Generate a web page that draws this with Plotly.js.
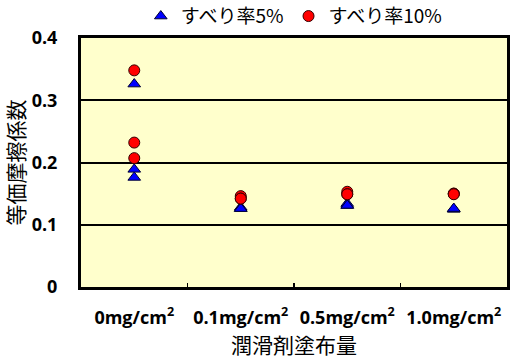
<!DOCTYPE html>
<html>
<head>
<meta charset="utf-8">
<script src="https://cdn.plot.ly/plotly-3.0.1.min.js"></script>
<style>html,body{margin:0;padding:0;background:#fff;}#chart{width:520px;height:360px;}</style>
</head>
<body>
<div id="chart"></div>
<script>
var categories = ["0mg/cm<sup>2</sup>", "0.1mg/cm<sup>2</sup>", "0.5mg/cm<sup>2</sup>", "1.0mg/cm<sup>2</sup>"];
var sampleCategories = [
  categories[0], categories[0], categories[0],
  categories[1], categories[1], categories[1],
  categories[2], categories[2], categories[2],
  categories[3], categories[3], categories[3]
];
var slip5 = [0.326, 0.189, 0.176, 0.128, 0.126, 0.126, 0.134, 0.131, 0.131, 0.125, 0.125, 0.126];
var slip10 = [0.348, 0.232, 0.207, 0.146, 0.142, 0.142, 0.153, 0.149, 0.149, 0.150, 0.150, 0.149];
var seriesNames = ["すべり率5%", "すべり率10%"];
var yTicks = [0, 0.1, 0.2, 0.3, 0.4];
var yTickText = ["0", "0.1", "0.2", "0.3", "0.4"];

var latin = "Open Sans, Noto Sans CJK JP, sans-serif";
var cjk = "Noto Sans CJK JP, sans-serif";

var traces = [
  {
    type: "scatter", mode: "markers", name: seriesNames[0],
    x: sampleCategories, y: slip5,
    marker: {symbol: "triangle-up", size: 11, color: "#0000FF", line: {color: "#000033", width: 1}},
    cliponaxis: false
  },
  {
    type: "scatter", mode: "markers", name: seriesNames[1],
    x: sampleCategories, y: slip10,
    marker: {symbol: "circle", size: 11, color: "#FF0000", line: {color: "#330000", width: 1}},
    cliponaxis: false
  }
];

var layout = {
  width: 520, height: 360,
  margin: {l: 81, r: 13, t: 38, b: 73, pad: 0, autoexpand: false},
  paper_bgcolor: "#FFFFFF",
  plot_bgcolor: "#FFFFCC",
  showlegend: true,
  legend: {
    orientation: "h", xref: "container", x: 0.565, xanchor: "center",
    yref: "container", y: 0.955, yanchor: "middle",
    font: {family: cjk, size: 19, color: "#000"},
    itemwidth: 30, tracegroupgap: 0, bgcolor: "rgba(0,0,0,0)"
  },
  xaxis: {
    type: "category",
    categoryorder: "array", categoryarray: categories,
    range: [-0.5, 3.5],
    showgrid: false, zeroline: false,
    showline: true, linecolor: "#000", linewidth: 3, mirror: true,
    ticks: "inside", tickson: "boundaries", ticklen: 4, tickwidth: 1.5, tickcolor: "#000",
    tickfont: {family: latin, size: 18, color: "#000", weight: "bold"},
    ticklabelstandoff: 12,
    title: {text: "潤滑剤塗布量", font: {family: cjk, size: 21, color: "#000"}, standoff: 2}
  },
  yaxis: {
    range: [0, 0.4],
    tickvals: yTicks, ticktext: yTickText,
    showgrid: true, gridcolor: "#000", gridwidth: 2,
    zeroline: false,
    showline: true, linecolor: "#000", linewidth: 3, mirror: true,
    ticks: "",
    tickfont: {family: latin, size: 18, color: "#000", weight: "bold"},
    ticklabelstandoff: 17,
    title: {text: "等価摩擦係数", font: {family: cjk, size: 21, color: "#000"}, standoff: 13}
  }
};

Plotly.newPlot("chart", traces, layout, {staticPlot: true, displayModeBar: false});
</script>
</body>
</html>
